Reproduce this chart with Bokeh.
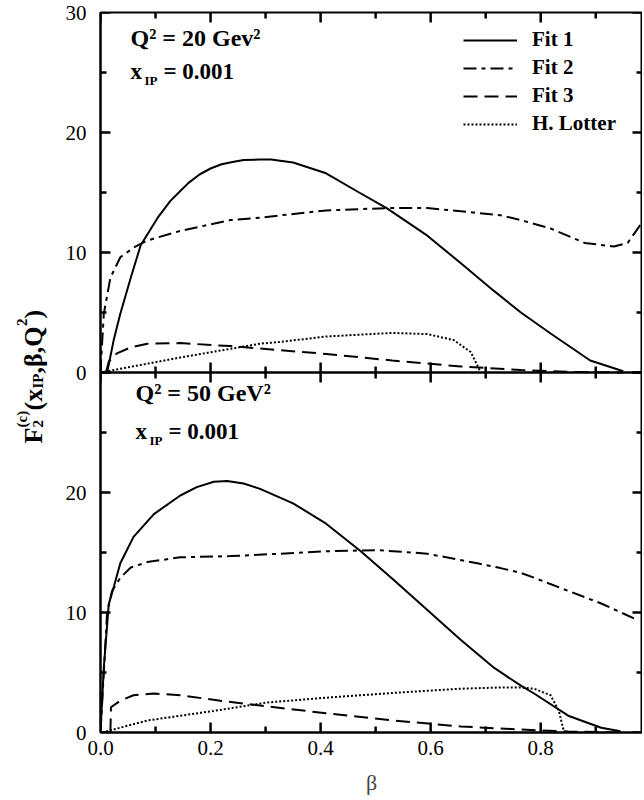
from bokeh.plotting import figure
from bokeh.models import (Range1d, SingleIntervalTicker, FixedTicker, PrintfTickFormatter,
                          Label, Legend, LegendItem, Span)
from bokeh.layouts import row
from bokeh.embed import file_html
from bokeh.resources import INLINE

# ---------------- data ----------------
# Upper panel : Q^2 = 20 GeV^2, x_IP = 0.001
top_fit1_beta = [0.012, 0.024, 0.036, 0.055, 0.073, 0.104, 0.127, 0.14, 0.16, 0.18, 0.2, 0.22,
                 0.24, 0.26, 0.29, 0.31, 0.35, 0.41, 0.47, 0.52, 0.594, 0.655, 0.715, 0.764,
                 0.818, 0.89, 0.95]
top_fit1_f2 = [0.0, 2.7, 4.9, 7.9, 10.6, 12.9, 14.3, 14.9, 15.8, 16.5, 17.0, 17.35,
               17.55, 17.7, 17.75, 17.75, 17.5, 16.6, 15.0, 13.7, 11.4, 9.1, 6.8, 5.0,
               3.25, 1.0, 0.1]
top_fit2_beta = [0.0, 0.003, 0.006, 0.018, 0.036, 0.06, 0.085, 0.145, 0.236, 0.29, 0.327, 0.41,
                 0.52, 0.594, 0.685, 0.727, 0.764, 0.818, 0.88, 0.933, 0.958, 0.978, 0.985]
top_fit2_f2 = [0.0, 2.5, 4.9, 7.9, 9.6, 10.4, 11.0, 11.8, 12.7, 12.9, 13.1, 13.5,
               13.7, 13.7, 13.3, 13.1, 12.7, 12.0, 10.8, 10.5, 10.8, 12.1, 12.6]
top_fit3_beta = [0.01, 0.015, 0.03, 0.055, 0.085, 0.145, 0.236, 0.29, 0.327, 0.41, 0.53,
                 0.655, 0.764, 0.85, 0.95]
top_fit3_f2 = [0.0, 0.9, 1.6, 2.1, 2.4, 2.45, 2.2, 2.0, 1.85, 1.55, 1.0, 0.5, 0.2, 0.05, 0.0]
top_lot_beta = [0.0, 0.145, 0.29, 0.327, 0.41, 0.53, 0.594, 0.642, 0.673, 0.688, 0.69]
top_lot_f2 = [0.0, 1.25, 2.4, 2.55, 3.0, 3.3, 3.2, 2.7, 1.7, 0.3, 0.0]

# Lower panel : Q^2 = 50 GeV^2, x_IP = 0.001
bot_fit1_beta = [0.0, 0.006, 0.015, 0.024, 0.036, 0.06, 0.097, 0.145, 0.175, 0.206, 0.23, 0.26,
                 0.29, 0.35, 0.41, 0.473, 0.533, 0.594, 0.655, 0.715, 0.764, 0.788, 0.85,
                 0.91, 0.945]
bot_fit1_f2 = [0.0, 5.4, 10.7, 12.1, 14.1, 16.3, 18.2, 19.75, 20.45, 20.9, 20.95, 20.75,
               20.3, 19.1, 17.4, 15.1, 12.7, 10.2, 7.7, 5.4, 3.9, 3.25, 1.4,
               0.4, 0.1]
bot_fit2_beta = [0.0, 0.012, 0.021, 0.036, 0.055, 0.085, 0.145, 0.236, 0.327, 0.41, 0.503,
                 0.594, 0.685, 0.727, 0.764, 0.788, 0.85, 0.91, 0.97]
bot_fit2_f2 = [0.0, 10.0, 11.8, 12.9, 13.75, 14.2, 14.6, 14.7, 14.9, 15.1, 15.2,
               14.9, 14.1, 13.7, 13.3, 12.9, 11.8, 10.75, 9.5]
bot_fit3_beta = [0.018, 0.019, 0.036, 0.06, 0.097, 0.145, 0.218, 0.29, 0.41, 0.533, 0.655,
                 0.764, 0.85, 0.95]
bot_fit3_f2 = [0.0, 2.1, 2.65, 3.1, 3.25, 3.1, 2.65, 2.25, 1.6, 1.0, 0.5, 0.25, 0.08, 0.0]
bot_lot_beta = [0.003, 0.085, 0.206, 0.303, 0.41, 0.533, 0.655, 0.727, 0.764, 0.788, 0.818,
                0.833, 0.842]
bot_lot_f2 = [0.0, 1.0, 1.8, 2.5, 2.9, 3.3, 3.65, 3.75, 3.75, 3.65, 3.1, 1.8, 0.1]

series_names = ["Fit 1", "Fit 2", "Fit 3", "H. Lotter"]
q2_texts = ["Q² = 20 Gev²", "Q² = 50 GeV²"]
xip_text = "= 0.001"

x_major_ticks = [0.0, 0.2, 0.4, 0.6, 0.8]
x_minor_ticks = [0.1, 0.3, 0.5, 0.7, 0.9]
y_major_ticks = [0, 10, 20, 30]
y_minor_ticks = [5, 15, 25]
y_tick_labels = {30: "0", 40: "10", 50: "20", 60: "30"}

# ---------------- style ----------------
FONT = "Liberation Serif"
DASHES = ["solid", "13 5 4 5", "14 7", "2 2"]
X_END = 0.985
FRAME_W, FRAME_H = 542, 720
XPP = X_END / FRAME_W          # data units per pixel (x)
YPP = 60.0 / FRAME_H           # data units per pixel (y)
MAJ, MIN = 10, 6               # tick lengths in pixels

p = figure(frame_width=FRAME_W, frame_height=FRAME_H,
           x_range=Range1d(0, X_END), y_range=Range1d(0, 60),
           toolbar_location=None, output_backend="svg",
           min_border_left=42, min_border_right=0, min_border_top=12, min_border_bottom=0)
p.extra_y_ranges = {"top": Range1d(-30, 30)}
p.grid.visible = False
p.outline_line_color = "black"
p.outline_line_width = 2

xa = p.xaxis[0]
xa.ticker = SingleIntervalTicker(interval=0.2, num_minor_ticks=0)
xa.formatter = PrintfTickFormatter(format="%.1f")
ya = p.yaxis[0]
ya.ticker = FixedTicker(ticks=[0, 10, 20, 30, 40, 50, 60])
ya.major_label_overrides = y_tick_labels
for ax in (xa, ya):
    ax.axis_line_width = 2
    ax.major_tick_in = 0
    ax.major_tick_out = 0
    ax.minor_tick_in = 0
    ax.minor_tick_out = 0
    ax.major_label_text_font = FONT
    ax.major_label_text_font_size = "21px"
    ax.major_label_text_color = "black"
xa.major_label_standoff = 8
ya.major_label_standoff = 14
xa.axis_label = "β"
xa.axis_label_text_font = FONT
xa.axis_label_text_font_style = "normal"
xa.axis_label_text_font_size = "22px"
xa.axis_label_standoff = 12

# curves
top_series = [(top_fit1_beta, top_fit1_f2), (top_fit2_beta, top_fit2_f2),
              (top_fit3_beta, top_fit3_f2), (top_lot_beta, top_lot_f2)]
bot_series = [(bot_fit1_beta, bot_fit1_f2), (bot_fit2_beta, bot_fit2_f2),
              (bot_fit3_beta, bot_fit3_f2), (bot_lot_beta, bot_lot_f2)]
top_rends = []
for (bx, fy), dash in zip(top_series, DASHES):
    top_rends.append(p.line(bx, fy, line_color="black", line_width=2, line_dash=dash,
                            y_range_name="top"))
for (bx, fy), dash in zip(bot_series, DASHES):
    p.line(bx, fy, line_color="black", line_width=2, line_dash=dash)

# inward tick marks, for each panel (each panel on its own y range)
for rng in ("default", "top"):
    for ticks, ln in ((x_major_ticks, MAJ), (x_minor_ticks, MIN)):
        n = len(ticks)
        p.segment(x0=ticks, y0=[0] * n, x1=ticks, y1=[ln * YPP] * n,
                  line_color="black", line_width=2.5, y_range_name=rng)
        p.segment(x0=ticks, y0=[30] * n, x1=ticks, y1=[30 - ln * YPP] * n,
                  line_color="black", line_width=2.5, y_range_name=rng)
    for ticks, ln in ((y_major_ticks, MAJ), (y_minor_ticks, MIN)):
        n = len(ticks)
        p.segment(x0=[0] * n, y0=ticks, x1=[ln * XPP] * n, y1=ticks,
                  line_color="black", line_width=2.5, y_range_name=rng)
        p.segment(x0=[X_END] * n, y0=ticks, x1=[X_END - ln * XPP] * n, y1=ticks,
                  line_color="black", line_width=2.5, y_range_name=rng)

# boundary between the two panels
p.add_layout(Span(location=30, dimension="width", line_color="black", line_width=2.5))

# panel annotations (screen offsets from the frame's bottom-left corner)
for q_text, x0, yq, yx in [(q2_texts[0], 30, 682, 649), (q2_texts[1], 35, 327, 289)]:
    p.add_layout(Label(x=x0, y=yq, x_units="screen", y_units="screen", text=q_text,
                       text_font=FONT, text_font_style="bold", text_font_size="24px",
                       text_color="black"))
    p.add_layout(Label(x=x0, y=yx, x_units="screen", y_units="screen", text="x",
                       text_font=FONT, text_font_style="bold", text_font_size="23px",
                       text_color="black"))
    p.add_layout(Label(x=x0 + 14, y=yx - 4, x_units="screen", y_units="screen", text="IP",
                       text_font=FONT, text_font_style="bold", text_font_size="13px",
                       text_color="black"))
    p.add_layout(Label(x=x0 + 33, y=yx, x_units="screen", y_units="screen", text=xip_text,
                       text_font=FONT, text_font_style="bold", text_font_size="23px",
                       text_color="black"))

legend = Legend(items=[LegendItem(label=n, renderers=[r]) for n, r in zip(series_names, top_rends)],
                location=(363, 596), padding=0, margin=0, border_line_color=None,
                background_fill_alpha=0, glyph_width=54, glyph_height=20, label_height=20,
                spacing=3, label_standoff=15, label_text_font=FONT,
                label_text_font_style="bold", label_text_font_size="21px",
                label_text_color="black", label_text_baseline="middle")
p.add_layout(legend)

# ---------------- rotated y-axis title (page coordinates) ----------------
lab = figure(frame_width=58, frame_height=800, x_range=Range1d(0, 58), y_range=Range1d(800, 0),
             toolbar_location=None, output_backend="svg", min_border=0,
             x_axis_location=None, y_axis_location=None, outline_line_color=None)
lab.grid.visible = False
pieces = [("F", 33, 431, "26px"), ("2", 37, 415, "15px"), ("(c)", 21, 415, "15px"),
          ("(x", 33, 398, "26px"), ("IP", 37, 376, "15px"), (",β,Q", 33, 361, "26px"),
          ("2", 21, 313.5, "15px"), (")", 33, 306, "26px")]
for t, px, py, fs in pieces:
    lab.add_layout(Label(x=px, y=py, text=t, angle=90, angle_units="deg",
                         text_align="left", text_baseline="alphabetic",
                         text_font=FONT, text_font_style="bold", text_font_size=fs,
                         text_color="black"))

layout = row(lab, p)
open("out.html", "w").write(file_html(layout, INLINE))
